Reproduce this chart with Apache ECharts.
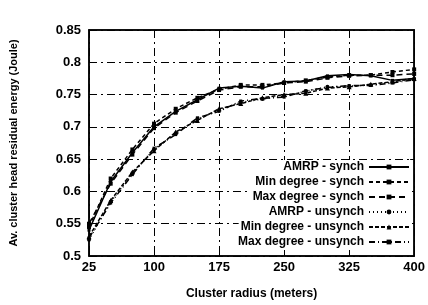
<!DOCTYPE html>
<html><head><meta charset="utf-8">
<script src="https://cdn.jsdelivr.net/npm/echarts@6/dist/echarts.min.js"></script>
<style>html,body{margin:0;padding:0;background:#fff}#c{width:428px;height:305px}</style>
</head><body><div id="c"></div>
<script>
var radius = [25,50,75,100,125,150,175,200,225,250,275,300,325,350,375,400];
var amrpSynch   = [0.540,0.615,0.660,0.700,0.724,0.742,0.760,0.763,0.760,0.770,0.771,0.779,0.781,0.779,0.772,0.775];
var minSynch    = [0.545,0.620,0.665,0.705,0.728,0.745,0.758,0.765,0.765,0.768,0.772,0.777,0.780,0.780,0.785,0.789];
var maxSynch    = [0.550,0.612,0.657,0.698,0.722,0.740,0.757,0.762,0.762,0.768,0.770,0.776,0.779,0.780,0.780,0.782];
var amrpUnsynch = [0.525,0.584,0.628,0.665,0.690,0.712,0.726,0.738,0.743,0.748,0.755,0.762,0.763,0.765,0.769,0.774];
var minUnsynch  = [0.530,0.586,0.630,0.663,0.692,0.710,0.728,0.736,0.745,0.750,0.752,0.760,0.762,0.766,0.770,0.775];
var maxUnsynch  = [0.528,0.582,0.626,0.667,0.688,0.714,0.724,0.740,0.744,0.746,0.756,0.761,0.764,0.764,0.768,0.773];
var names = ['AMRP - synch','Min degree - synch','Max degree - synch','AMRP - unsynch','Min degree - unsynch','Max degree - unsynch'];
var values = [amrpSynch,minSynch,maxSynch,amrpUnsynch,minUnsynch,maxUnsynch];
var dashes = ['solid',[4,3],[6,4],[1,3],[4,2],[6,3,1,3]];
var symbols = ['rect','rect','rect','circle','triangle','rect'];
var sizes = [3,4,4,4,5,3];
var font = 'Liberation Sans';
var series = names.map(function(n,i){
  return {name:n,type:'line',data:values[i],symbol:symbols[i],symbolSize:sizes[i],showSymbol:true,
    itemStyle:{color:'#000'},lineStyle:{color:'#000',width:1.5,type:dashes[i]},z:3};
});
var legends = names.map(function(n,i){
  return {data:[n],orient:'vertical',right:16,top:160+i*15,itemWidth:40,itemHeight:6,itemGap:0,padding:[1,2,2,2],
    backgroundColor:'#fff',
    align:'right',textStyle:{fontFamily:font,fontSize:12,color:'#000',fontWeight:'bold'}};
});
var gridLine = {color:'#000',width:1,type:[8,4,2,4]};
var chart = echarts.init(document.getElementById('c'));
chart.setOption({
  animation:false,
  backgroundColor:'#fff',
  grid:{left:83,right:13,top:30,bottom:45,show:true,borderColor:'#000',borderWidth:1.5},
  legend:legends,
  xAxis:[{type:'category',data:radius,boundaryGap:false,
    name:'Cluster radius (meters)',nameLocation:'middle',nameGap:32,
    nameTextStyle:{fontFamily:font,fontSize:12,fontWeight:'bold',color:'#000'},
    axisLine:{lineStyle:{color:'#000',width:1.5}},
    axisTick:{inside:true,interval:2,length:4,lineStyle:{color:'#000'}},
    axisLabel:{interval:2,fontFamily:font,fontSize:13,fontWeight:'bold',color:'#000',margin:5},
    splitLine:{show:true,interval:2,lineStyle:gridLine}},
   {type:'category',data:radius,boundaryGap:false,position:'top',
    axisLine:{lineStyle:{color:'#000',width:1.5}},
    axisTick:{inside:true,interval:2,length:4,lineStyle:{color:'#000'}},
    axisLabel:{show:false},splitLine:{show:false}}],
  yAxis:[{type:'value',min:0.5,max:0.85,interval:0.05,
    name:'Av. cluster head residual energy (Joule)',nameLocation:'middle',nameGap:70,
    nameTextStyle:{fontFamily:font,fontSize:11,fontWeight:'bold',color:'#000'},
    axisLine:{show:true,lineStyle:{color:'#000',width:1.5}},
    axisTick:{show:true,inside:true,length:4,lineStyle:{color:'#000'}},
    axisLabel:{fontFamily:font,fontSize:13,fontWeight:'bold',color:'#000',margin:8,
      formatter:function(v){return String(parseFloat(v.toFixed(2)));}},
    splitLine:{show:true,lineStyle:gridLine}},
   {type:'value',min:0.5,max:0.85,interval:0.05,position:'right',
    axisLine:{show:true,lineStyle:{color:'#000',width:1.5}},
    axisTick:{show:true,inside:true,length:4,lineStyle:{color:'#000'}},
    axisLabel:{show:false},splitLine:{show:false}}],
  series:series
});
</script></body></html>
